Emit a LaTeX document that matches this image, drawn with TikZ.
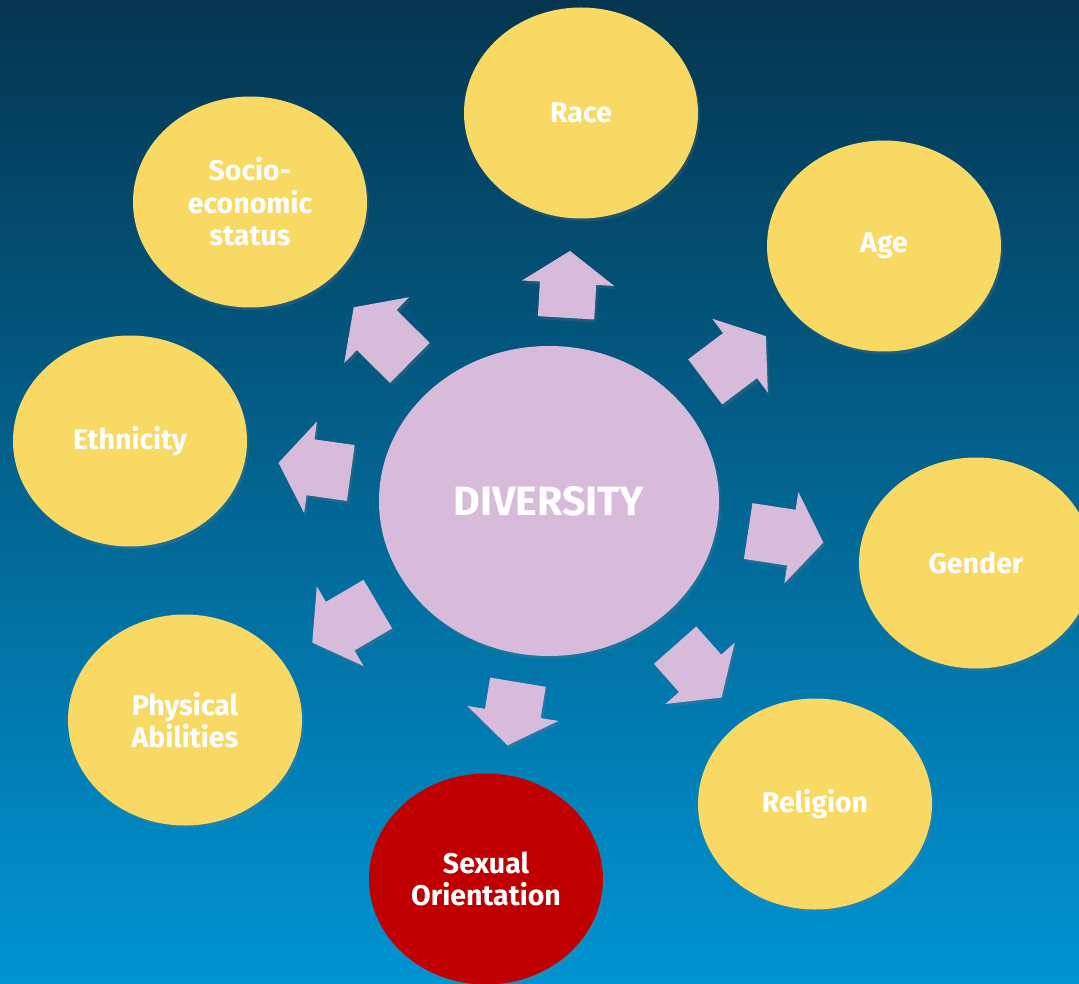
\documentclass[tikz,border=0pt]{standalone}
\usepackage{fontspec}
\setmainfont{Fira Sans}
\usetikzlibrary{shapes.geometric,shapes.arrows,shadows}

\definecolor{skytop}{HTML}{053550}
\definecolor{skybottom}{HTML}{0094D3}
\definecolor{topicyellow}{HTML}{F8D964}
\definecolor{lilac}{HTML}{D8BBDB}
\definecolor{deepred}{HTML}{C00000}

\begin{document}
\begin{tikzpicture}[x=1pt,y=-1pt,
  topic/.style={ellipse,fill=topicyellow,minimum width=234pt,minimum height=211pt,
    inner sep=0pt,text=white,align=center,font=\fontsize{28.5}{32.5}\selectfont\bfseries,
    drop shadow={opacity=.2,shadow xshift=2pt,shadow yshift=-3pt}},
  pointer/.style={single arrow,fill=lilac,anchor=tail,rotate=#1,inner sep=0pt,
    text height=28pt,text depth=28pt,single arrow head extend=18pt,
    single arrow tip angle=110,
    drop shadow={opacity=.2,shadow xshift=2pt,shadow yshift=-3pt}}]
\useasboundingbox (0,0) rectangle (1079,984);
\clip (0,0) rectangle (1079,984);
\shade[top color=skytop,bottom color=skybottom] (0,0) rectangle (1079,984);

% centre
\node[ellipse,fill=lilac,minimum width=340pt,minimum height=310pt,inner sep=0pt,
  text=white,font=\fontsize{41}{46}\selectfont\bfseries,
  drop shadow={opacity=.2,shadow xshift=2pt,shadow yshift=-3pt}] (div) at (549,501) {DIVERSITY};

% the eight topics
\node[topic] (race) at (581,113) {Race};
\node[topic] (age) at (884,246) {Age};
\node[topic] (gender) at (976,563) {Gender};
\node[topic] (religion) at (815,804) {Religion};
\node[topic,fill=deepred] (sexor) at (486,879) {Sexual\\Orientation};
\node[topic] (physab) at (185,720) {Physical\\Abilities};
\node[topic] (ethnic) at (130,441) {Ethnicity};
\node[topic] (socio) at (250,202) {Socio-\\economic\\status};

% arrows out of the centre
\node[pointer=86.6,minimum height=67pt] (toRace) at (566,318) {};
\node[pointer=37,minimum height=76pt] (toAge) at (705,382) {};
\node[pointer=-8.7,minimum height=76pt] (toGender) at (748,531) {};
\node[pointer=-48.5,minimum height=70pt] (toReligion) at (675,645) {};
\node[pointer=-99.4,minimum height=64pt] (toSexor) at (518,682) {};
\node[pointer=210.4,minimum height=76pt] (toPhysab) at (378,604) {};
\node[pointer=172,minimum height=73pt] (toEthnic) at (351,473) {};
\node[pointer=135.3,minimum height=79pt] (toSocio) at (410,363) {};
\end{tikzpicture}
\end{document}
